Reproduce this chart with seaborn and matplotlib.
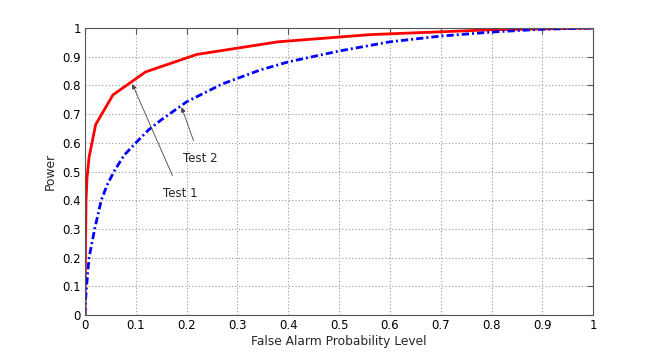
import matplotlib
matplotlib.use("Agg")
import matplotlib.pyplot as plt
import seaborn as sns
import pandas as pd

# Test 1 (red, solid)
pfa1 = [0.0, 0.001, 0.002, 0.004, 0.008, 0.021, 0.055, 0.119, 0.22, 0.38, 0.56, 0.80, 1.0]
pow1 = [0.0, 0.25, 0.40, 0.48, 0.55, 0.664, 0.767, 0.847, 0.908, 0.952, 0.977, 0.994, 1.0]
# Test 2 (blue, dash-dot)
pfa2 = [0.0, 0.001, 0.003, 0.008, 0.019, 0.032, 0.044, 0.057, 0.077, 0.10, 0.125, 0.15, 0.20, 0.27, 0.345, 0.40, 0.50, 0.60, 0.70, 0.80, 0.90, 1.0]
pow2 = [0.0, 0.05, 0.10, 0.20, 0.30, 0.40, 0.455, 0.50, 0.557, 0.60, 0.645, 0.68, 0.743, 0.805, 0.854, 0.882, 0.92, 0.952, 0.972, 0.986, 0.996, 1.0]

xticks = [0, 0.1, 0.2, 0.3, 0.4, 0.5, 0.6, 0.7, 0.8, 0.9, 1]
yticks = [0, 0.1, 0.2, 0.3, 0.4, 0.5, 0.6, 0.7, 0.8, 0.9, 1]
xlabel = "False Alarm Probability Level"
ylabel = "Power"
ann1 = ("Test 1", (0.093, 0.805), (0.187, 0.425))
ann2 = ("Test 2", (0.19, 0.724), (0.226, 0.546))

sns.set_style("white")
plt.rcParams['font.family'] = ['DejaVu Sans']

fig = plt.figure(figsize=(6.54, 3.55), dpi=100)
ax = fig.add_axes([0.130, 0.1127, 0.777, 0.8083])

df1 = pd.DataFrame({"x": pfa1, "y": pow1})
df2 = pd.DataFrame({"x": pfa2, "y": pow2})
sns.lineplot(data=df1, x="x", y="y", ax=ax, color="red", lw=2.0, sort=False)
sns.lineplot(data=df2, x="x", y="y", ax=ax, color="blue", lw=2.0, sort=False,
             linestyle=(0, (2.6, 1.1, 0.7, 1.1)))

ax.set_xlim(0, 1)
ax.set_ylim(0, 1)
ax.set_xticks(xticks)
ax.set_yticks(yticks)
ax.set_xticklabels([f"{t:g}" for t in xticks])
ax.set_yticklabels([f"{t:g}" for t in yticks])
ax.tick_params(direction="in", length=4, width=0.8, color="#555555",
               top=True, right=True, labelsize=8.5, pad=3, labelcolor="black")
ax.grid(True, color="#999999", linestyle=(0, (1, 2)), linewidth=0.8)
for s in ax.spines.values():
    s.set_visible(True)
    s.set_color("#555555")
    s.set_linewidth(0.8)
ax.set_xlabel(xlabel, fontsize=8.8, labelpad=2)
ax.set_ylabel(ylabel, fontsize=8.8, labelpad=4)

for txt, xy, xyt in (ann1, ann2):
    ax.annotate(txt, xy=xy, xytext=xyt, ha="center", va="center", fontsize=8.5,
                arrowprops=dict(arrowstyle="-|>", color="#444444", lw=0.6,
                                mutation_scale=7, shrinkA=6, shrinkB=0))

fig.savefig("out.png", dpi=100)
